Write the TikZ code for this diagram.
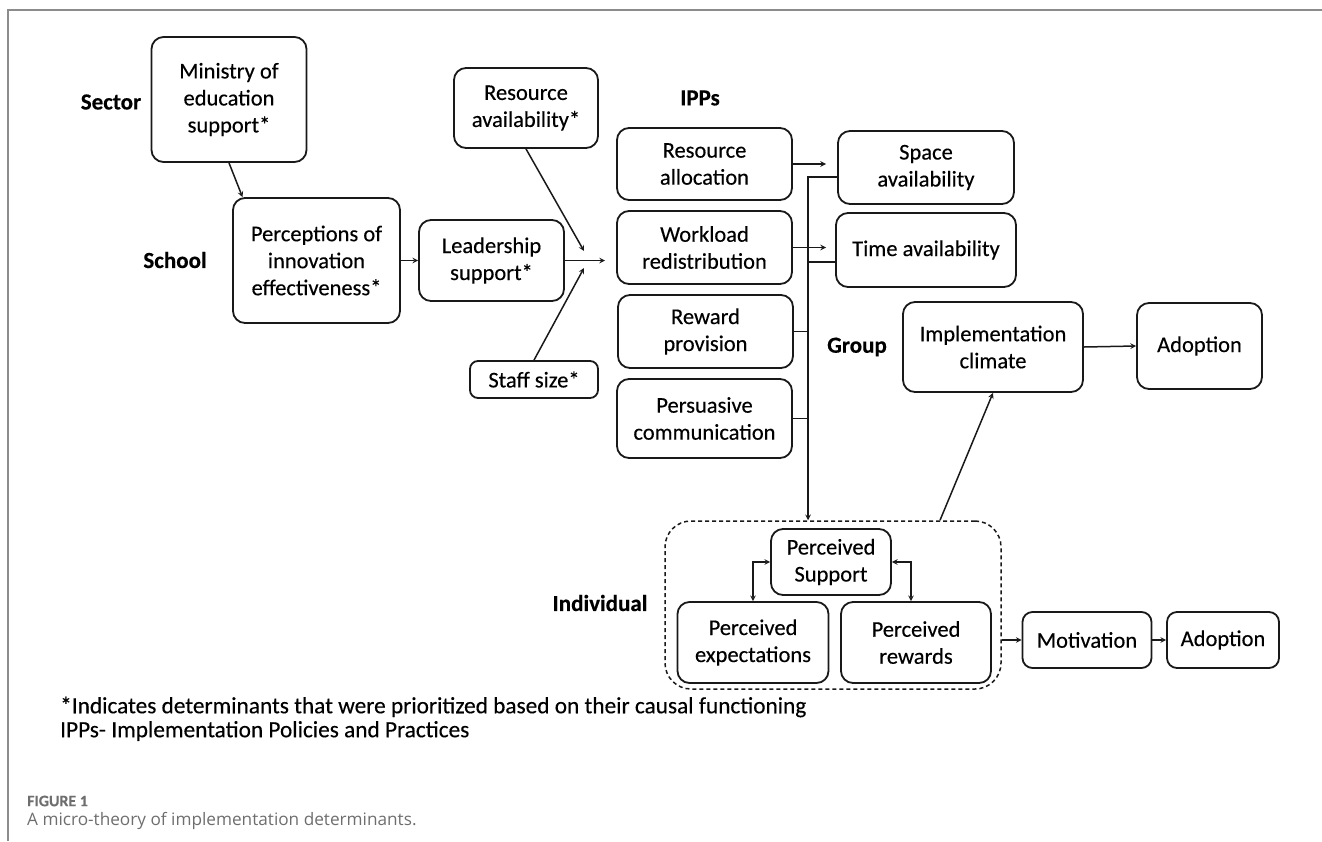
\documentclass[tikz,border=0pt]{standalone}
\usepackage{fontspec}
\setmainfont{Carlito}[FakeBold=0.3]
\newfontfamily\capfont{Open Sans}
\usepackage{tikz}
\definecolor{ink}{RGB}{25, 25, 25}
\definecolor{rule}{RGB}{140, 140, 140}
\definecolor{capgray}{RGB}{110, 110, 110}
\newcommand*{\lw}{1.8}

\begin{document}
\begin{tikzpicture}[
   x=1pt, y=-1pt,
   detbox/.style={rectangle, rounded corners=12, draw=ink, line width=\lw, text=black,
                  align=center, inner sep=2, font=\fontsize{22.5}{27}\selectfont},
   levlab/.style={font=\fontsize{23}{27}\selectfont\bfseries, text=black, inner sep=0},
   grpbox/.style={rectangle, rounded corners=26, draw=ink, line width=1.5,
                  dash pattern=on 4pt off 3pt},
   arr/.style={->, >=stealth, draw=ink, line width=1.5},
   barr/.style={<->, >=stealth, draw=ink, line width=1.5},
   link/.style={draw=ink, line width=1.5},
   note/.style={anchor=west, inner sep=0, text=black, font=\fontsize{23.3}{27}\selectfont}
  ]

  \useasboundingbox (0, 0) rectangle (1322, 841);
  \draw[rule, line width=1.5] (8, 841) -- (8, 10) -- (1322, 10);

  % Level labels
  \node (sector) at (111, 102) [levlab] {Sector};
  \node (school) at (175, 260) [levlab] {School};
  \node (ipps) at (700, 98) [levlab] {IPPs};
  \node (group) at (857, 347) [levlab] {Group};
  \node (indivlab) at (600, 603) [levlab] {Individual};

  % Sector and school
  \node (ministry) at (229, 99.5) [detbox, minimum width=155, minimum height=125] {Ministry of\\education\\support*};
  \node (percept) at (316.5, 260.5) [detbox, minimum width=167, minimum height=125] {Perceptions of\\innovation\\effectiveness*};
  \node (leader) at (491.5, 260.5) [detbox, minimum width=145, minimum height=81] {Leadership\\support*};
  \node (resavail) at (526, 108) [detbox, minimum width=144, minimum height=80] {Resource\\availability*};
  \node (staff) at (534, 379.5) [detbox, rounded corners=8, minimum width=128, minimum height=37] {Staff size*};

  % IPPs
  \node (resalloc) at (704.5, 164) [detbox, minimum width=175, minimum height=72] {Resource\\allocation};
  \node (workload) at (704.5, 247.5) [detbox, minimum width=175, minimum height=73] {Workload\\redistribution};
  \node (reward) at (705.5, 331.5) [detbox, minimum width=175, minimum height=73] {Reward\\provision};
  \node (persuade) at (704.5, 418.5) [detbox, minimum width=175, minimum height=79] {Persuasive\\communication};
  \node (space) at (926, 167.5) [detbox, minimum width=176, minimum height=73] {Space\\availability};
  \node (time) at (926, 250) [detbox, minimum width=180, minimum height=74] {Time availability};

  % Group
  \node (climate) at (993, 347) [detbox, minimum width=180, minimum height=90] {Implementation\\climate};
  \node (adopt1) at (1199.5, 346) [detbox, minimum width=125, minimum height=86] {Adoption};

  % Individual
  \node (indiv) at (833, 605) [grpbox, minimum width=336, minimum height=168] {};
  \node (support) at (831, 562) [detbox, minimum width=120, minimum height=66] {Perceived\\Support};
  \node (expect) at (753, 642.5) [detbox, minimum width=151, minimum height=81] {Perceived\\expectations};
  \node (rewards) at (916, 642.5) [detbox, minimum width=150, minimum height=81] {Perceived\\rewards};
  \node (motiv) at (1087, 640) [detbox, rounded corners=10, minimum width=129, minimum height=56] {Motivation};
  \node (adopt2) at (1223, 640) [detbox, rounded corners=10, minimum width=112, minimum height=56] {Adoption};

  % Free ends and bus
  \coordinate (merge) at (605, 260.5);
  \coordinate (mtop) at (584, 251);
  \coordinate (mbot) at (584, 268);
  \coordinate (ratip) at (826, 164);
  \coordinate (wrtip) at (826, 247.5);
  \coordinate (bus) at (808, 177);
  \coordinate (tap) at (808, 262);

  \draw[arr] (ministry.south) -- ([xshift=-74]percept.north);

  \foreach \B/\E in {percept.east/leader.west, leader.east/merge, resavail.south/mtop,
                     staff.north/mbot, resalloc.east/ratip, workload.east/wrtip,
                     climate.east/adopt1.west, motiv.east/adopt2.west} {
    \draw[arr] (\B) -- (\E);
  }

  \draw[arr] (space.west |- bus) -- (bus) -- (bus |- indiv.north);
  \draw[link] (time.west |- tap) -- (tap);
  \draw[link] (reward.east) -- (reward.east -| bus);
  \draw[link] (persuade.east) -- (persuade.east -| bus);

  \draw[arr] ([xshift=107]indiv.north) -- (climate.south);
  \draw[barr] (support.west) -| (expect.north);
  \draw[barr] (support.east) -| ([xshift=-5]rewards.north);
  \draw[arr] (indiv.east |- motiv.west) -- (motiv.west);

  % Notes and caption
  \node (fnstar) at (60, 707) [note] {*Indicates determinants that were prioritized based on their causal functioning};
  \node (fnipps) at (60, 731) [note] {IPPs- Implementation Policies and Practices};
  \node (fig) at (27, 801) [anchor=west, inner sep=0, text=capgray, font=\bfseries\fontsize{16}{18}\selectfont] {FIGURE 1};
  \node (caption) at (27, 821) [anchor=west, inner sep=0, text=capgray, font=\capfont\fontsize{17.2}{20}\selectfont] {A micro-theory of implementation determinants.};

\end{tikzpicture}
\end{document}
